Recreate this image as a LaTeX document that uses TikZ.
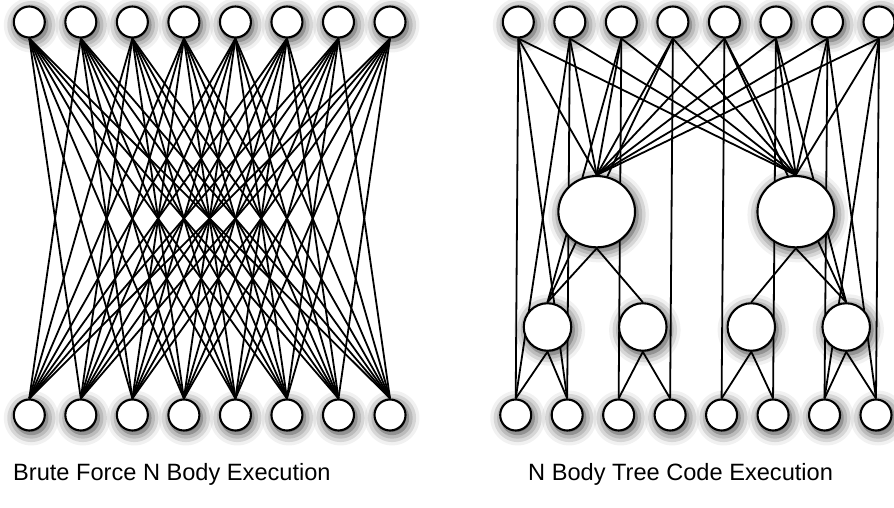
\documentclass[tikz,border=0pt]{standalone}
\usepackage{fontspec}
\setmainfont{Liberation Sans}
\usetikzlibrary{shapes.geometric,shadows.blur,backgrounds}

\tikzset{
  body/.style={circle, draw, line width=2.1pt, fill=white, inner sep=0pt, minimum size=31pt,
    blur shadow={shadow xshift=2pt, shadow yshift=-3pt, shadow blur radius=12pt, shadow opacity=85}},
  cell/.style={body, minimum size=47.5pt},
  bigcell/.style={body, ellipse, minimum width=76.7pt, minimum height=71.3pt},
  link/.style={line width=1.8pt},
  caption/.style={font=\fontsize{23.6}{28}\selectfont, anchor=base west, inner sep=0pt}
}

\begin{document}
\begin{tikzpicture}[x=1pt,y=-1pt]
\useasboundingbox (0,0) rectangle (894,508);

% brute force bodies
\foreach \i in {1,...,8} {
  \node[body] (lt\i) at ({29.3+51.53*(\i-1)},22) {};
  \node[body] (lb\i) at ({29.3+51.53*(\i-1)},415) {};
}
\node[caption] (bfcap) at (13,480) {Brute Force N Body Execution};

% tree code: bodies, two big cells and four small cells
\foreach \i in {1,...,8} {
  \node[body] (rt\i) at ({518.3+51.53*(\i-1)},22) {};
  \node[body] (rb\i) at ({515.7+51.47*(\i-1)},415) {};
}
\node[bigcell] (cl) at (596.7,211.7) {};
\node[bigcell] (cr) at (795.8,211.7) {};
\node[cell] (m1) at (547.5,327) {};
\node[cell] (m2) at (642.8,327) {};
\node[cell] (m3) at (751.3,327) {};
\node[cell] (m4) at (846.2,327) {};
\node[caption] (tccap) at (528,480) {N Body Tree Code Execution};

\begin{scope}[on background layer]
% every body against every other body
\foreach \s in {1,...,8} {
  \foreach \t in {1,...,8} {
    \ifnum\s=\t\else \draw[link] (lt\s.south) -- (lb\t.north); \fi
  }
}
% near field, direct
\foreach \i in {1,...,8} { \draw[link] (rt\i.south) -- (rb\i.north); }
\draw[link] (rt1.south) -- (rb2.north);
\draw[link] (rt2.south) -- (rb1.north);
\draw[link] (rt7.south) -- (rb8.north);
\draw[link] (rt8.south) -- (rb7.north);
% far field through the cells
\foreach \i in {1,...,8} {
  \draw[link] (rt\i.south) -- (cl.north);
  \draw[link] (rt\i.south) -- (cr.north);
}
\draw[link] (rt3.south) -- (m1.north);
\draw[link] (rt4.south) -- (m1.north);
\draw[link] (rt5.south) -- (m4.north);
\draw[link] (rt6.south) -- (m4.north);
\draw[link] (cl.south) -- (m1.north);
\draw[link] (cl.south) -- (m2.north);
\draw[link] (cr.south) -- (m3.north);
\draw[link] (cr.south) -- (m4.north);
\foreach \c/\a/\b in {m1/1/2, m2/3/4, m3/5/6, m4/7/8} {
  \draw[link] (\c.south) -- (rb\a.north);
  \draw[link] (\c.south) -- (rb\b.north);
}
\end{scope}
\end{tikzpicture}
\end{document}
